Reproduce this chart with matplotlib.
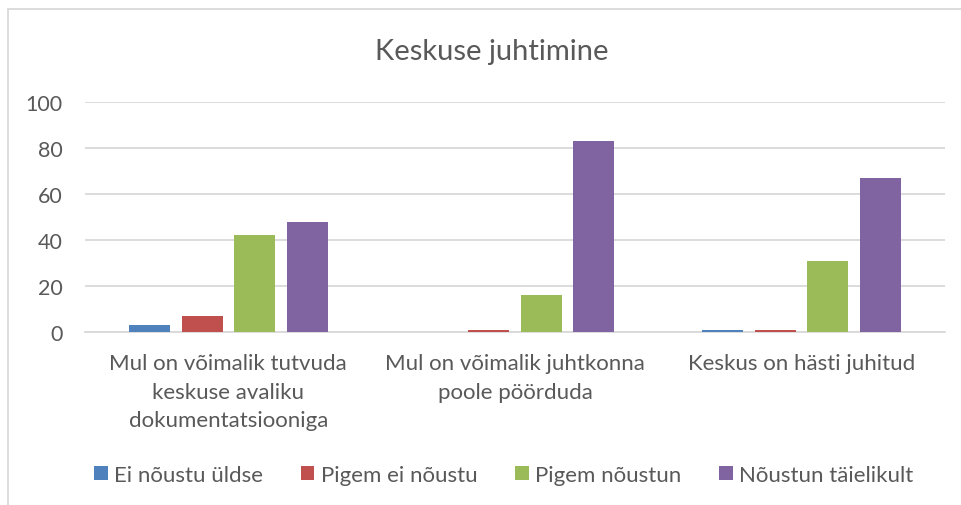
import numpy as np
import matplotlib.pyplot as plt
from matplotlib.patches import Rectangle

categories = ["Mul on võimalik tutvuda\nkeskuse avaliku\ndokumentatsiooniga",
              "Mul on võimalik juhtkonna\npoole pöörduda",
              "Keskus on hästi juhitud"]
series = ["Ei nõustu üldse", "Pigem ei nõustu", "Pigem nõustun", "Nõustun täielikult"]
ei_noustu = [3, 0, 1]
pigem_ei = [7, 1, 1]
pigem_jah = [42, 16, 31]
taielikult = [48, 83, 67]
colors = ["#4f81bd", "#c0504d", "#9bbb59", "#8064a2"]

plt.rcParams['font.family'] = ['Lato', 'DejaVu Sans']
txt = "#595959"

fig = plt.figure(figsize=(9.61, 5.06), dpi=100)
ax = fig.add_axes([85/961, 173/506, 860/961, 230/506])

# chart border (only left and top visible in the crop)
fig.patches.append(Rectangle((8/961, -0.1), 1.2, (506-10)/506 + 0.1, transform=fig.transFigure,
                             fill=False, edgecolor="#d9d9d9", linewidth=1.3))

x = np.arange(len(categories))
w = 0.143
step = 0.183
for i, (vals, name) in enumerate(zip([ei_noustu, pigem_ei, pigem_jah, taielikult], series)):
    ax.bar(x + (i - 1.5) * step, vals, w, color=colors[i], label=name, zorder=3)

ax.set_xlim(-0.5, 2.5)
ax.set_ylim(0, 100)
ax.set_yticks(range(0, 101, 20))
ax.grid(axis='y', color="#d9d9d9", linewidth=1.3, zorder=0)
for s in ['top', 'right', 'left']:
    ax.spines[s].set_visible(False)
ax.spines['bottom'].set_color("#d9d9d9")
ax.spines['bottom'].set_linewidth(1.3)
ax.tick_params(length=0, labelsize=15.5, colors=txt)
ax.tick_params(axis='y', pad=16)
ax.tick_params(axis='x', pad=15, labelsize=16)
ax.set_xticks(x)
ax.set_xticklabels(categories, linespacing=1.55)

fig.text(492/961, 1 - 52/506, "Keskuse juhtimine", ha='center', va='center',
         fontsize=21, color=txt)

fig.legend(loc='center', bbox_to_anchor=(504/961, 1 - 476/506), ncol=4, frameon=False,
           fontsize=16, labelcolor=txt, handlelength=0.6, handleheight=0.6,
           handletextpad=0.3, columnspacing=1.7)

fig.savefig("out.png", dpi=100)
